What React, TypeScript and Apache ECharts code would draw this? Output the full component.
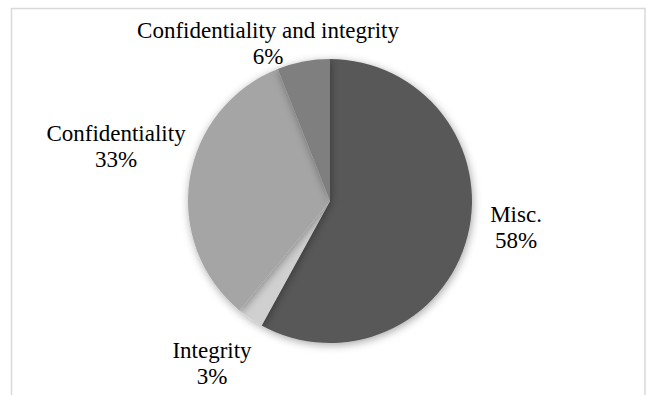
import React, { useEffect, useRef } from "react";
import * as echarts from "echarts";

const categories = ["Misc.", "Integrity", "Confidentiality", "Confidentiality and integrity"];
const values = [58, 3, 33, 6];
const colors = ["#595959", "#d0d0d0", "#a5a5a5", "#7f7f7f"];
// label anchor positions (center x, block middle y) per slice
const labelPos: [number, number][] = [
  [516, 227],
  [212, 363],
  [116, 146],
  [268, 43],
];

export default function App() {
  const ref = useRef<HTMLDivElement>(null);
  useEffect(() => {
    document.body.style.margin = "0";
    const chart = echarts.init(ref.current!, null, { renderer: "svg" });
    chart.setOption({
      animation: false,
      backgroundColor: "#ffffff",
      graphic: [
        {
          type: "rect",
          shape: { x: 11.5, y: 8.5, width: 633.5, height: 400 },
          style: { fill: "none", stroke: "#d9d9d9", lineWidth: 1.5 },
          silent: true,
        },
      ],
      series: [
        {
          type: "pie",
          center: [330, 201],
          radius: 142,
          startAngle: 90,
          clockwise: true,
          percentPrecision: 0,
          data: categories.map((name, i) => ({
            name,
            value: values[i],
            itemStyle: { color: colors[i] },
          })),
          itemStyle: {
            borderWidth: 0,
            shadowBlur: 8,
            shadowColor: "rgba(0,0,0,0.35)",
            shadowOffsetX: 1,
            shadowOffsetY: 2,
          },
          label: {
            show: true,
            position: "outside",
            formatter: "{b}\n{d}%",
            fontFamily: "Liberation Serif",
            fontSize: 23,
            lineHeight: 26,
            color: "#000000",
            align: "center",
            overflow: "none",
            width: 400,
          },
          labelLine: { show: false },
          labelLayout: (params: any) => {
            const p = labelPos[params.dataIndex];
            return { x: p[0], y: p[1], align: "center", verticalAlign: "middle" };
          },
          emphasis: { disabled: true },
        },
      ],
    });
    return () => chart.dispose();
  }, []);
  return <div ref={ref} style={{ width: 648, height: 395, position: "absolute", left: 0, top: 0 }} />;
}
